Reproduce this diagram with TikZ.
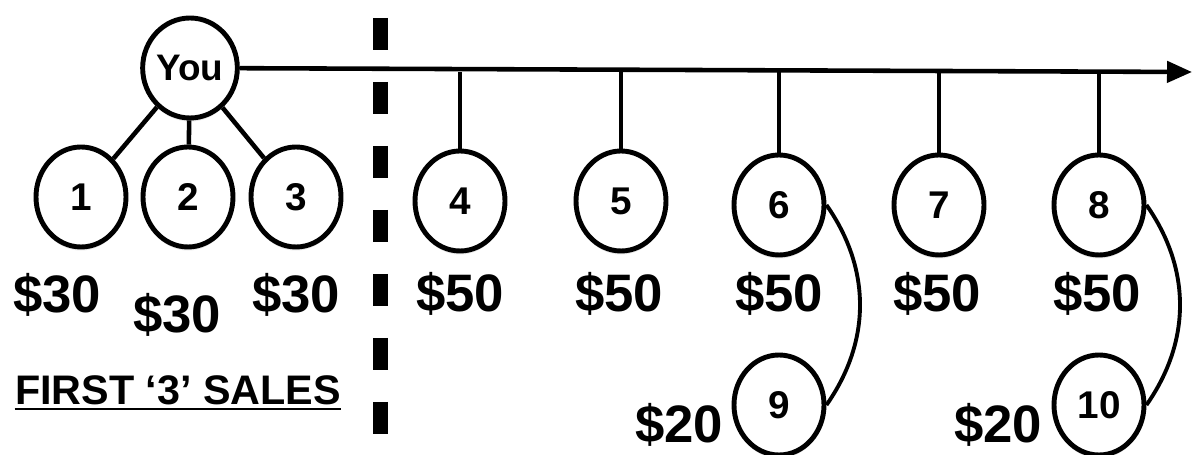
\documentclass[tikz,border=0pt]{standalone}
\usepackage{fontspec}
\setmainfont{Liberation Sans}
\usetikzlibrary{arrows.meta,shapes.geometric,shadows}

\tikzset{
  sale/.style={ellipse, draw, line width=2.8pt, fill=white, inner sep=0pt,
    minimum width=1.80cm, minimum height=2.0cm,
    font=\fontsize{22}{22}\selectfont\bfseries,
    drop shadow={opacity=0.18, shadow xshift=0pt, shadow yshift=-2pt}},
  link/.style={line width=2.6pt},
  money/.style={anchor=base, inner sep=0pt, font=\fontsize{30}{30}\selectfont\bfseries},
}

\begin{document}
\begin{tikzpicture}[>=Stealth]
  \useasboundingbox (0,0) rectangle (23.84,9.1);
  % divider
  \coordinate (divtop) at (7.6,8.74);
  \coordinate (divbot) at (7.6,0.40);
  \draw[line width=0.3cm, dash pattern=on 0.64cm off 0.64cm] (divtop) -- (divbot);

  % you and the first sales
  \node[sale, font=\fontsize{21}{21}\selectfont\bfseries] (you) at (3.80,7.74) {You};
  \node[sale] (s1) at (1.62,5.16) {1};
  \node[sale] (s2) at (3.76,5.16) {2};
  \node[sale] (s3) at (5.92,5.16) {3};
  \foreach \n in {1,2,3} \draw[link] (you) -- (s\n);

  % timeline
  \coordinate (tip) at (23.84,7.66);
  \draw[link,-{Triangle[length=0.5cm,width=0.42cm]}] (you) -- (tip);
  \node[sale] (s4) at (9.20,5.08) {4};
  \node[sale] (s5) at (12.42,5.08) {5};
  \node[sale] (s6) at (15.58,5.00) {6};
  \node[sale] (s7) at (18.78,5.00) {7};
  \node[sale] (s8) at (21.98,5.00) {8};
  \foreach \n in {4,...,8} \draw[link] (s\n) -- (s\n |- tip);

  % referrals
  \node[sale] (s9) at (15.58,1.00) {9};
  \node[sale] (s10) at (21.98,1.00) {10};
  \draw[line width=2.2pt] (s6.east) to[bend left=35] (s9.east);
  \draw[line width=2.2pt] (s8.east) to[bend left=35] (s10.east);

  % amounts
  \node[money] (m1) at (1.14,2.84) {\$30};
  \node[money] (m2) at (3.54,2.44) {\$30};
  \node[money] (m3) at (5.92,2.84) {\$30};
  \foreach \n/\x in {4/9.20,5/12.38,6/15.58,7/18.74,8/21.94}
    \node[money] (m\n) at (\x,2.86) {\$50};
  \node[money] (m9) at (13.58,0.24) {\$20};
  \node[money] (m10) at (19.96,0.24) {\$20};

  \node[anchor=base, inner sep=0pt, font=\fontsize{23.5}{24}\selectfont\bfseries] (first) at (3.56,1.00) {FIRST ‘3’ SALES};
  \draw[line width=1.2pt] ([yshift=-0.08cm]first.base west) -- ([yshift=-0.08cm]first.base east);
\end{tikzpicture}
\end{document}
